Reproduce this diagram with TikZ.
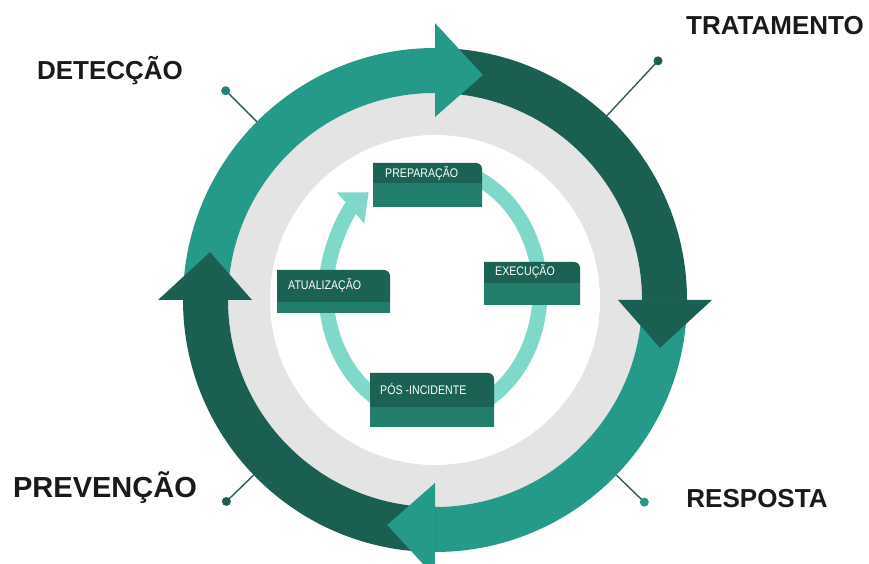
\documentclass[tikz,border=0pt]{standalone}
\usepackage{fontspec}
\setmainfont{Liberation Sans}
\newfontfamily\boxfont{Liberation Sans}[FakeStretch=0.85]
\usetikzlibrary{arrows.meta,calc}
\definecolor{tealM}{HTML}{269A88}
\definecolor{tealD}{HTML}{1B5F53}
\definecolor{ringgray}{HTML}{E4E4E4}
\definecolor{lightring}{HTML}{7FD8CA}
\definecolor{boxdark}{HTML}{1B6255}
\definecolor{boxlight}{HTML}{237D6D}
\definecolor{leader}{HTML}{2E5E56}
\definecolor{labelink}{HTML}{1A1A1A}
\newcommand\ringbody[3]{\fill[#1,shift={(435,264)}] (#2:252) arc[start angle=#2,end angle=#3,radius=252] -- (#3:207) arc[start angle=#3,end angle=#2,radius=207] -- cycle;}
\newcommand\ringhead[3]{\fill[#1,shift={(435,264)}] (#2:183) -- (#2:277) -- (#3:230) -- cycle;}
% name, x, y, w, h, light band, text x, text baseline, text
\newcommand\stagebox[9]{%
  \begin{scope}[shift={(#2,#3)}]
    \fill[boxdark] (0,0) -- (0,#5) -- ({#4-6},#5) arc[start angle=90,end angle=0,radius=6] -- (#4,0) -- cycle;
    \fill[boxlight] (0,0) rectangle (#4,#6);
    \node[boxtext] (#1) at (#7,#8) {#9};
  \end{scope}}
\tikzset{
  boxtext/.style={anchor=base west,inner sep=0pt,text=white,font=\boxfont\fontsize{12.5}{14}\selectfont},
  outerlabel/.style={anchor=base,inner sep=0pt,text=labelink,font=\bfseries\fontsize{26}{30}\selectfont},
  leaderline/.style={draw=leader,line width=1.4pt},
}
\begin{document}
\begin{tikzpicture}[x=1pt,y=1pt]
\useasboundingbox (0,0) rectangle (869,564);
\fill[white] (0,0) rectangle (869,564);
\coordinate (C) at (435,264);
% grey band
\fill[ringgray] (C) circle[radius=207];
\fill[white] (C) circle[radius=165];
% outer ring bodies
\ringbody{tealM}{180}{90}
\ringbody{tealD}{90}{0}
\ringbody{tealM}{0}{-90}
\ringbody{tealD}{-90}{-180}
% outer ring heads
\ringhead{tealM}{90}{78}
\ringhead{tealD}{0}{-12}
\ringhead{tealM}{-90}{-102}
\ringhead{tealD}{-180}{-192}
% leader lines
\coordinate (detA) at ($(C)+(135:252)$);
\coordinate (detB) at ($(C)+(135:296)$);
\coordinate (traA) at ($(C)+(47:252)$);
\coordinate (traB) at ($(C)+(47:327)$);
\coordinate (preA) at ($(C)+(-136:252)$);
\coordinate (preB) at ($(C)+(-136:290)$);
\coordinate (resA) at ($(C)+(-44:252)$);
\coordinate (resB) at ($(C)+(-44:291)$);
\draw[leaderline] (detA) -- (detB);
\draw[leaderline] (traA) -- (traB);
\draw[leaderline] (preA) -- (preB);
\draw[leaderline] (resA) -- (resB);
\fill[tealM!85!black] (detB) circle[radius=4.5];
\fill[tealD] (traB) circle[radius=4.5];
\fill[tealD] (preB) circle[radius=4.5];
\fill[tealM] (resB) circle[radius=4.5];
% outer labels
\node[outerlabel] (det) at (110,484) {DETECÇÃO};
\node[outerlabel] (tra) at (775,529) {TRATAMENTO};
\node[outerlabel,font=\bfseries\fontsize{29}{33}\selectfont] (pre) at (105,66) {PREVENÇÃO};
\node[outerlabel] (res) at (757,56) {RESPOSTA};
% inner cycle
\draw[lightring,line width=15pt,-{Triangle[width=40pt,length=24pt]}] (433,272) ++(75:107 and 125) arc[start angle=75,end angle=-233,x radius=107,y radius=125];
% stage boxes
\stagebox{prep}{373}{357}{109}{44}{24}{12}{29}{PREPARAÇÃO}
\stagebox{exec}{484}{259}{96}{43}{22}{11}{29}{EXECUÇÃO}
\stagebox{atua}{277}{251}{113}{43}{11}{11}{23}{ATUALIZAÇÃO}
\stagebox{pos}{370}{137}{124}{54}{20}{10}{32}{PÓS -INCIDENTE}
\end{tikzpicture}
\end{document}
